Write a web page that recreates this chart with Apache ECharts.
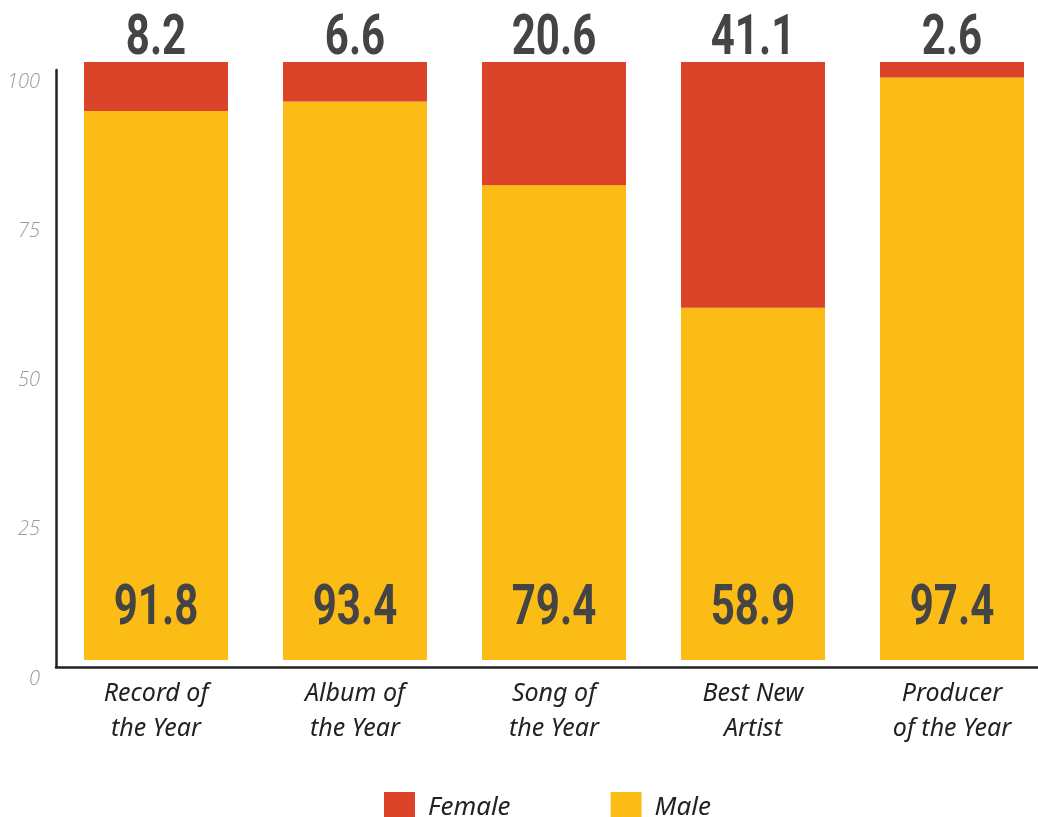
<!DOCTYPE html>
<html>
<head>
<meta charset="utf-8">
<script src="https://cdn.jsdelivr.net/npm/echarts@6/dist/echarts.min.js"></script>
<style>
  html, body { margin: 0; padding: 0; background: #fff; }
  #chart { width: 1038px; height: 817px; }
</style>
</head>
<body>
<div id="chart"></div>
<script>
// Share of nominees by gender, per award category (percent)
const categories = ['Record of\nthe Year', 'Album of\nthe Year', 'Song of\nthe Year', 'Best New\nArtist', 'Producer\nof the Year'];
const female = [8.2, 6.6, 20.6, 41.1, 2.6];
const male = [91.8, 93.4, 79.4, 58.9, 97.4];
const seriesNames = ['Female', 'Male'];
const yMin = 0, yMax = 100, yStep = 25;

const RED = '#DB4428';
const YELLOW = '#FBBC16';
const NUM_COLOR = '#444';
const NUM_SIZE = 56;
const NUM_SQUEEZE = 0.75;   // horizontal squeeze for a condensed look
const TEXT_FONT = '"Noto Sans", Lato, sans-serif';

const chart = echarts.init(document.getElementById('chart'), null, { renderer: 'canvas' });

// Condensed value numbers: female share above the stack, male share at its foot
function numberText(x, y, value) {
  return {
    type: 'text',
    x: x,
    y: y,
    scaleX: NUM_SQUEEZE,
    style: {
      x: 0,
      y: 0,
      text: value.toFixed(1),
      font: 'bold ' + NUM_SIZE + 'px Roboto, sans-serif',
      fill: NUM_COLOR,
      align: 'center',
      verticalAlign: 'middle'
    }
  };
}

function renderValues(params, api) {
  const idx = api.value(0);
  const m = api.value(1);
  const f = api.value(2);
  const top = api.coord([idx, m + f]);
  const base = api.coord([idx, 0]);
  return {
    type: 'group',
    children: [
      numberText(top[0], top[1] - 22, f),
      numberText(base[0], base[1] - 50, m)
    ]
  };
}

chart.setOption({
  animation: false,
  backgroundColor: '#fff',
  grid: [
    // bars (the last column runs slightly past the right edge)
    { left: 56.5, width: 995, top: 62, bottom: 157, outerBoundsMode: 'none' },
    // axis frame
    { left: 56, right: 0, top: 70, bottom: 150, outerBoundsMode: 'none' }
  ],
  legend: {
    data: seriesNames,
    left: 384,
    top: 792,
    padding: 0,
    icon: 'rect',
    itemWidth: 31,
    itemHeight: 31,
    itemGap: 100,
    textStyle: {
      fontFamily: TEXT_FONT,
      fontStyle: 'italic',
      fontSize: 26,
      color: '#222',
      padding: [0, 0, 0, 8]
    }
  },
  xAxis: [
    {
      type: 'category',
      gridIndex: 0,
      data: categories,
      axisLine: { show: false },
      axisTick: { show: false },
      axisLabel: {
        margin: 16,
        fontFamily: TEXT_FONT,
        fontStyle: 'italic',
        fontSize: 25,
        lineHeight: 35,
        color: '#222'
      }
    },
    {
      type: 'value',
      gridIndex: 1,
      min: 0,
      max: 1,
      axisLine: { show: true, lineStyle: { color: '#222', width: 2.5 } },
      axisTick: { show: false },
      axisLabel: { show: false },
      splitLine: { show: false }
    }
  ],
  yAxis: [
    {
      type: 'value',
      gridIndex: 0,
      min: yMin,
      max: yMax,
      show: false
    },
    {
      type: 'value',
      gridIndex: 1,
      min: yMin,
      max: yMax,
      interval: yStep,
      axisLine: { show: true, lineStyle: { color: '#222', width: 2.5 } },
      axisTick: { show: false },
      splitLine: { show: false },
      axisLabel: {
        margin: 16,
        fontFamily: '"Open Sans"',
        fontStyle: 'italic',
        fontWeight: 300,
        fontSize: 20,
        color: '#999',
        verticalAlign: 'top',
        lineHeight: 24
      }
    }
  ],
  series: [
    {
      name: 'Male',
      type: 'bar',
      xAxisIndex: 0,
      yAxisIndex: 0,
      stack: 'total',
      barWidth: 144,
      itemStyle: { color: YELLOW },
      data: male
    },
    {
      name: 'Female',
      type: 'bar',
      xAxisIndex: 0,
      yAxisIndex: 0,
      stack: 'total',
      barWidth: 144,
      itemStyle: { color: RED },
      data: female
    },
    {
      name: 'values',
      type: 'custom',
      xAxisIndex: 0,
      yAxisIndex: 0,
      silent: true,
      z: 5,
      renderItem: renderValues,
      data: categories.map((c, i) => [i, male[i], female[i]])
    }
  ]
});
</script>
</body>
</html>
